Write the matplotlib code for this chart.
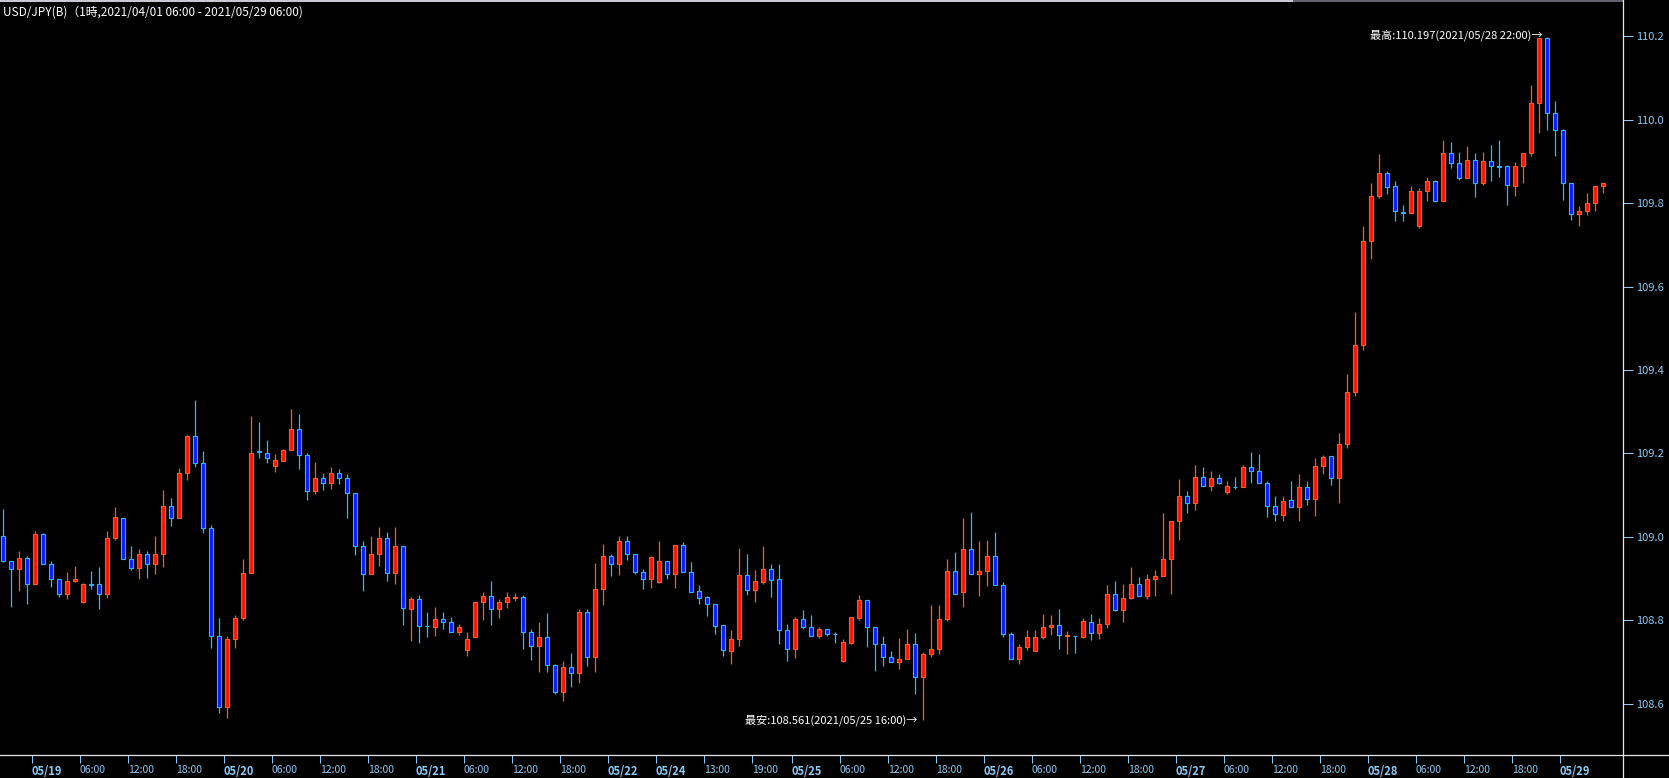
import matplotlib
matplotlib.use('Agg')
import matplotlib.pyplot as plt
from matplotlib.lines import Line2D
from matplotlib.patches import Rectangle

# ---- data (hourly USD/JPY candles, 05/18 20:00 .. 05/29 05:00, weekend gap removed) ----
opens = [
    109.002, 108.943, 108.923, 108.950, 108.886, 109.008, 108.934, 108.900, 108.862, 108.894,
    108.844, 108.886, 108.886, 108.862, 108.998, 109.046, 108.948, 108.926, 108.958, 108.936,
    108.960, 109.075, 109.046, 109.154, 109.241, 109.176, 109.021, 108.763, 108.593, 108.754,
    108.806, 108.913, 109.205, 109.202, 109.169, 109.182, 109.207, 109.258, 109.195, 109.111,
    109.140, 109.130, 109.154, 109.140, 109.104, 108.977, 108.912, 108.958, 108.998, 108.914,
    108.979, 108.828, 108.850, 108.787, 108.785, 108.804, 108.797, 108.773, 108.729, 108.759,
    108.845, 108.857, 108.826, 108.845, 108.853, 108.855, 108.771, 108.739, 108.761, 108.694,
    108.628, 108.689, 108.674, 108.819, 108.711, 108.874, 108.953, 108.934, 108.989, 108.958,
    108.915, 108.900, 108.892, 108.941, 108.912, 108.980, 108.915, 108.869, 108.855, 108.838,
    108.788, 108.727, 108.754, 108.908, 108.873, 108.892, 108.922, 108.898, 108.776, 108.732,
    108.802, 108.785, 108.763, 108.778, 108.768, 108.703, 108.746, 108.805, 108.848, 108.783,
    108.744, 108.713, 108.701, 108.708, 108.744, 108.665, 108.720, 108.732, 108.802, 108.917,
    108.867, 108.972, 108.910, 108.917, 108.953, 108.884, 108.768, 108.706, 108.735, 108.727,
    108.761, 108.783, 108.788, 108.763, 108.763, 108.760, 108.797, 108.770, 108.792, 108.864,
    108.825, 108.854, 108.888, 108.857, 108.898, 108.907, 108.946, 109.037, 109.097, 109.080,
    109.143, 109.123, 109.140, 109.107, 109.120, 109.119, 109.167, 109.159, 109.128, 109.073,
    109.052, 109.089, 109.071, 109.120, 109.090, 109.170, 109.194, 109.141, 109.223, 109.348,
    109.461, 109.708, 109.816, 109.871, 109.840, 109.779, 109.777, 109.745, 109.830, 109.854,
    109.806, 109.921, 109.897, 109.861, 109.904, 109.849, 109.900, 109.888, 109.888, 109.842,
    109.890, 109.919, 110.041, 110.195, 110.015, 109.974, 109.847, 109.775, 109.780, 109.801,
    109.840,
]
closes = [
    108.942, 108.924, 108.950, 108.888, 109.008, 108.934, 108.900, 108.862, 108.895, 108.898,
    108.886, 108.885, 108.862, 108.998, 109.047, 108.948, 108.926, 108.958, 108.936, 108.960,
    109.075, 109.046, 109.154, 109.241, 109.176, 109.021, 108.763, 108.593, 108.754, 108.806,
    108.913, 109.202, 109.203, 109.188, 109.183, 109.207, 109.258, 109.195, 109.111, 109.142,
    109.130, 109.154, 109.140, 109.104, 108.977, 108.912, 108.958, 108.998, 108.914, 108.979,
    108.830, 108.850, 108.787, 108.786, 108.804, 108.797, 108.773, 108.785, 108.756, 108.845,
    108.857, 108.826, 108.845, 108.855, 108.855, 108.771, 108.739, 108.761, 108.694, 108.628,
    108.689, 108.674, 108.819, 108.711, 108.874, 108.953, 108.934, 108.989, 108.958, 108.915,
    108.898, 108.951, 108.941, 108.912, 108.980, 108.915, 108.868, 108.854, 108.838, 108.787,
    108.728, 108.754, 108.908, 108.873, 108.893, 108.922, 108.897, 108.776, 108.732, 108.802,
    108.784, 108.763, 108.778, 108.768, 108.767, 108.747, 108.807, 108.848, 108.783, 108.744,
    108.713, 108.701, 108.708, 108.744, 108.665, 108.720, 108.732, 108.802, 108.917, 108.862,
    108.972, 108.910, 108.917, 108.953, 108.884, 108.768, 108.706, 108.735, 108.759, 108.761,
    108.783, 108.788, 108.764, 108.764, 108.762, 108.799, 108.770, 108.792, 108.864, 108.825,
    108.854, 108.888, 108.857, 108.898, 108.907, 108.946, 109.037, 109.097, 109.080, 109.143,
    109.123, 109.140, 109.128, 109.121, 109.119, 109.167, 109.159, 109.128, 109.073, 109.054,
    109.086, 109.071, 109.120, 109.090, 109.170, 109.192, 109.141, 109.223, 109.348, 109.461,
    109.708, 109.816, 109.871, 109.839, 109.782, 109.777, 109.830, 109.830, 109.854, 109.806,
    109.921, 109.895, 109.861, 109.904, 109.849, 109.900, 109.888, 109.887, 109.844, 109.890,
    109.919, 110.041, 110.195, 110.015, 109.974, 109.847, 109.775, 109.782, 109.801, 109.840,
    109.849,
]
highs = [
    109.066, 108.943, 108.965, 108.955, 109.015, 109.010, 108.943, 108.900, 108.915, 108.930,
    108.890, 108.918, 108.927, 109.014, 109.071, 109.046, 108.978, 108.970, 108.965, 109.002,
    109.112, 109.093, 109.166, 109.244, 109.328, 109.206, 109.028, 108.805, 108.762, 108.812,
    108.946, 109.290, 109.275, 109.232, 109.198, 109.210, 109.306, 109.294, 109.201, 109.179,
    109.153, 109.167, 109.162, 109.150, 109.104, 108.990, 109.002, 109.023, 109.011, 109.023,
    108.979, 108.855, 108.860, 108.820, 108.832, 108.820, 108.807, 108.791, 108.772, 108.845,
    108.868, 108.894, 108.851, 108.868, 108.865, 108.860, 108.779, 108.796, 108.817, 108.696,
    108.702, 108.721, 108.827, 108.827, 108.937, 108.983, 108.959, 109.002, 109.002, 108.958,
    108.924, 108.953, 108.990, 108.941, 108.980, 108.987, 108.940, 108.884, 108.858, 108.838,
    108.788, 108.776, 108.973, 108.959, 108.920, 108.978, 108.935, 108.935, 108.792, 108.807,
    108.824, 108.812, 108.785, 108.780, 108.773, 108.754, 108.807, 108.860, 108.848, 108.783,
    108.762, 108.726, 108.757, 108.779, 108.769, 108.723, 108.836, 108.836, 108.948, 108.963,
    109.045, 109.060, 108.990, 108.992, 109.012, 108.891, 108.771, 108.742, 108.776, 108.776,
    108.814, 108.812, 108.827, 108.774, 108.763, 108.806, 108.815, 108.806, 108.884, 108.894,
    108.886, 108.927, 108.903, 108.911, 108.920, 109.057, 109.037, 109.138, 109.111, 109.172,
    109.167, 109.157, 109.151, 109.135, 109.143, 109.172, 109.203, 109.199, 109.135, 109.099,
    109.099, 109.135, 109.150, 109.133, 109.188, 109.197, 109.194, 109.250, 109.391, 109.540,
    109.744, 109.847, 109.918, 109.878, 109.853, 109.795, 109.840, 109.835, 109.862, 109.856,
    109.952, 109.946, 109.922, 109.936, 109.920, 109.922, 109.939, 109.951, 109.892, 109.898,
    109.921, 110.082, 110.195, 110.197, 110.044, 109.978, 109.847, 109.794, 109.825, 109.840,
    109.849,
]
lows = [
    108.939, 108.832, 108.870, 108.839, 108.886, 108.934, 108.880, 108.856, 108.851, 108.892,
    108.842, 108.874, 108.827, 108.854, 108.993, 108.948, 108.920, 108.899, 108.902, 108.911,
    108.928, 109.026, 109.046, 109.137, 109.168, 109.010, 108.734, 108.578, 108.566, 108.734,
    108.801, 108.913, 109.190, 109.178, 109.156, 109.181, 109.207, 109.163, 109.089, 109.103,
    109.113, 109.115, 109.127, 109.046, 108.957, 108.870, 108.912, 108.930, 108.894, 108.887,
    108.789, 108.750, 108.746, 108.760, 108.763, 108.780, 108.773, 108.764, 108.715, 108.759,
    108.801, 108.789, 108.806, 108.830, 108.847, 108.732, 108.705, 108.676, 108.676, 108.624,
    108.607, 108.640, 108.650, 108.691, 108.676, 108.837, 108.907, 108.909, 108.945, 108.910,
    108.876, 108.878, 108.890, 108.900, 108.878, 108.915, 108.868, 108.839, 108.810, 108.767,
    108.714, 108.695, 108.738, 108.861, 108.844, 108.888, 108.856, 108.744, 108.703, 108.710,
    108.780, 108.763, 108.758, 108.762, 108.746, 108.700, 108.744, 108.801, 108.736, 108.679,
    108.691, 108.701, 108.683, 108.708, 108.623, 108.561, 108.713, 108.720, 108.799, 108.862,
    108.832, 108.910, 108.859, 108.883, 108.884, 108.759, 108.706, 108.696, 108.729, 108.727,
    108.754, 108.765, 108.732, 108.719, 108.722, 108.758, 108.753, 108.755, 108.782, 108.823,
    108.796, 108.852, 108.857, 108.850, 108.859, 108.907, 108.863, 108.993, 109.058, 109.065,
    109.121, 109.109, 109.126, 109.102, 109.114, 109.119, 109.128, 109.128, 109.047, 109.037,
    109.039, 109.071, 109.039, 109.076, 109.049, 109.151, 109.124, 109.080, 109.214, 109.338,
    109.448, 109.666, 109.811, 109.822, 109.758, 109.757, 109.777, 109.740, 109.806, 109.806,
    109.806, 109.884, 109.856, 109.861, 109.815, 109.844, 109.853, 109.863, 109.796, 109.817,
    109.848, 109.914, 109.968, 109.976, 109.912, 109.808, 109.760, 109.746, 109.772, 109.782,
    109.825,
]

tick_idx = [4, 10, 16, 22, 28, 34, 40, 46, 52, 58, 64, 70, 76, 82, 88, 94, 99,
            105, 111, 117, 123, 129, 135, 141, 147, 153, 159, 165, 171, 177, 183, 189, 195]
tick_labels = ['05/19', '06:00', '12:00', '18:00', '05/20', '06:00', '12:00', '18:00',
               '05/21', '06:00', '12:00', '18:00', '05/22', '05/24', '13:00', '19:00',
               '05/25', '06:00', '12:00', '18:00', '05/26', '06:00', '12:00', '18:00',
               '05/27', '06:00', '12:00', '18:00', '05/28', '06:00', '12:00', '18:00', '05/29']
y_ticks = [108.6, 108.8, 109.0, 109.2, 109.4, 109.6, 109.8, 110.0, 110.2]

title = 'USD/JPY(B)（1時,2021/04/01 06:00 - 2021/05/29 06:00)'
high_idx, high_val = 193, 110.197
low_idx, low_val = 115, 108.561
high_label = '最高:110.197(2021/05/28 22:00)→'
low_label = '最安:108.561(2021/05/25 16:00)→'

# ---- style ----
FONT = ['Liberation Sans Narrow', 'Noto Sans CJK JP', 'DejaVu Sans']
LB = '#8ccbf5'
UP_FILL, UP_EDGE = '#ff1500', '#ff5a20'
DN_FILL, DN_EDGE = '#0020ff', '#30b4ff'

W, H = 1669, 778
fig = plt.figure(figsize=(W / 100, H / 100), dpi=100, facecolor='black')
AX_BOTTOM_PX = 755.3
AX_RIGHT_PX = 1623
ax = fig.add_axes([0, (H - AX_BOTTOM_PX) / H, AX_RIGHT_PX / W, AX_BOTTOM_PX / H])
ax.set_facecolor('black')

n = len(opens)
xs = list(range(n))
up = [c >= o for o, c in zip(opens, closes)]
fills = [UP_FILL if u else DN_FILL for u in up]
edges = [UP_EDGE if u else DN_EDGE for u in up]
bottoms = [min(o, c) for o, c in zip(opens, closes)]
heights = [max(abs(c - o), 0.0002) for o, c in zip(opens, closes)]

ax.vlines(xs, lows, highs, colors=edges, linewidth=0.9, zorder=2)
ax.bar(xs, heights, bottom=bottoms, width=0.5, color=fills, edgecolor=edges,
       linewidth=0.8, zorder=3)

# axis limits: candle 0 at 3.3 px, 8 px per candle; 417.2 px per yen, 110.2 at 36.2 px
ax.set_xlim(-3.3 / 8, (AX_RIGHT_PX - 3.3) / 8)
ax.set_ylim(110.2 - (AX_BOTTOM_PX - 36.2) / 417.2, 110.2 + 36.2 / 417.2)

for s in ax.spines.values():
    s.set_visible(False)

ax.yaxis.tick_right()
ax.set_yticks(y_ticks)
ax.set_yticklabels([f'{v:.1f}' for v in y_ticks])
ax.tick_params(axis='y', colors=LB, length=7.2, width=0.72, pad=2.5, labelsize=8)
for lab in ax.get_yticklabels():
    lab.set_family(FONT)

ax.set_xticks([i - 0.45 for i in tick_idx])
ax.set_xticklabels(tick_labels)
ax.tick_params(axis='x', colors=LB, length=6, width=0.72, pad=1.2, labelsize=7.5)
for lab in ax.get_xticklabels():
    lab.set_ha('left')
    lab.set_family(FONT)
    if '/' in lab.get_text():
        lab.set_fontweight('bold')
        lab.set_fontsize(8)

# annotations
ax.text(high_idx - 0.55, high_val + 0.005, high_label, ha='right', va='center',
        color='white', fontsize=8, family=FONT, zorder=5)
ax.text(low_idx - 0.7, low_val, low_label, ha='right', va='center',
        color='white', fontsize=8, family=FONT, zorder=5)

# title
fig.text(3 / W, 1 - 12.5 / H, title, color='white', fontsize=8.5, va='center', ha='left',
         family=FONT)

# frame lines
fig.add_artist(Line2D([0, 1], [(H - AX_BOTTOM_PX) / H] * 2, transform=fig.transFigure,
                      color='#e6e6e6', linewidth=0.9))
fig.add_artist(Line2D([AX_RIGHT_PX / W] * 2, [0, 1], transform=fig.transFigure,
                      color='#e6e6e6', linewidth=0.9))
fig.add_artist(Rectangle((0, 1 - 2 / H), 1293 / W, 2 / H, transform=fig.transFigure,
                         facecolor='#c8c8d0', edgecolor='none'))
fig.add_artist(Rectangle((1293 / W, 1 - 2 / H), (AX_RIGHT_PX - 1293) / W, 2 / H,
                         transform=fig.transFigure, facecolor='#606070', edgecolor='none'))

fig.savefig('out.png', dpi=100, facecolor='black')
